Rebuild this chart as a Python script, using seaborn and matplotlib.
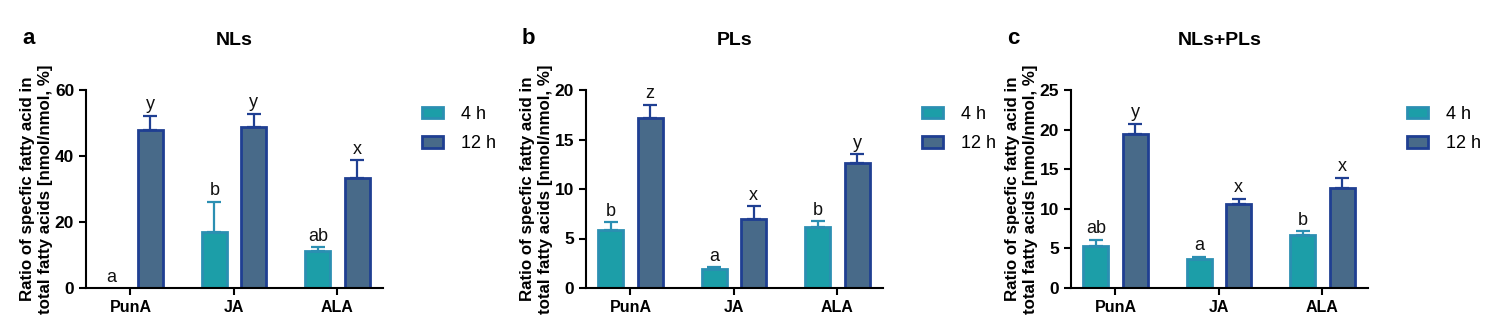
import matplotlib
matplotlib.use("Agg")
import matplotlib.pyplot as plt
import numpy as np
import pandas as pd
import seaborn as sns
from matplotlib.patches import Patch

sns.set_style("ticks", {"text.color": "black", "xtick.color": "black", "ytick.color": "black",
                        "axes.labelcolor": "black"})
plt.rcParams["font.family"] = ["Liberation Sans", "DejaVu Sans"]

acids = ["PunA", "JA", "ALA"]
times = ["4 h", "12 h"]

panels = ["a", "b", "c"]
titles = ["NLs", "PLs", "NLs+PLs"]
ymax = [60, 20, 25]
ysteps = [20, 5, 5]

# means per acid (PunA, JA, ALA)
nl_4h = [0.0, 16.9, 11.3]
nl_12h = [47.9, 48.8, 33.2]
pl_4h = [5.9, 1.95, 6.2]
pl_12h = [17.2, 6.95, 12.6]
all_4h = [5.3, 3.65, 6.7]
all_12h = [19.5, 10.6, 12.6]

# upper error (SD)
nl_4h_err = [0.0, 9.3, 1.1]
nl_12h_err = [4.3, 4.0, 5.5]
pl_4h_err = [0.75, 0.13, 0.58]
pl_12h_err = [1.3, 1.33, 0.9]
all_4h_err = [0.8, 0.3, 0.5]
all_12h_err = [1.27, 0.68, 1.35]

# significance letters
nl_4h_sig = ["a", "b", "ab"]
nl_12h_sig = ["y", "y", "x"]
pl_4h_sig = ["b", "a", "b"]
pl_12h_sig = ["z", "x", "y"]
all_4h_sig = ["ab", "a", "b"]
all_12h_sig = ["y", "x", "x"]

means = [(nl_4h, nl_12h), (pl_4h, pl_12h), (all_4h, all_12h)]
errors = [(nl_4h_err, nl_12h_err), (pl_4h_err, pl_12h_err), (all_4h_err, all_12h_err)]
letters = [(nl_4h_sig, nl_12h_sig), (pl_4h_sig, pl_12h_sig), (all_4h_sig, all_12h_sig)]

fill_colors = {"4 h": "#1c9ea8", "12 h": "#486a89"}
edge_colors = {"4 h": "#2b8fb2", "12 h": "#1f3f92"}

fig = plt.figure(figsize=(15, 3.33), dpi=100)
W, H = 1500, 333
lefts = [86, 586, 1071]
ax_w = 297
top_px, bot_px = 90, 288

for i in range(3):
    ax = fig.add_axes([lefts[i] / W, 1 - bot_px / H, ax_w / W, (bot_px - top_px) / H])
    rows = []
    for t, (vals, errs) in zip(times, zip(means[i], errors[i])):
        for a, v, e in zip(acids, vals, errs):
            rows.append({"acid": a, "time": t, "value": v, "err": e})
    df = pd.DataFrame(rows)

    sns.barplot(data=df, x="acid", y="value", hue="time", order=acids, hue_order=times,
                palette=fill_colors, saturation=1, width=0.76, gap=0.37, errorbar=None,
                linewidth=2, ax=ax, legend=False)

    for j, t in enumerate(times):
        cont = ax.containers[j]
        sub = df[df["time"] == t].set_index("acid").loc[acids]
        for k, bar in enumerate(cont):
            bar.set_edgecolor(edge_colors[t])
            xc = bar.get_x() + bar.get_width() / 2
            v = sub["value"].iloc[k]
            e = sub["err"].iloc[k]
            if v > 0:
                ax.errorbar(xc, v, yerr=[[0], [e]], color=edge_colors[t], capsize=5,
                            elinewidth=1.6, capthick=1.6, fmt="none", zorder=1)
            ax.text(xc, v + e + ymax[i] * 0.012, letters[i][j][k], ha="center", va="bottom",
                    fontsize=13, color="#111111")

    ax.set_xlim(-0.43, 2.44)
    ax.set_ylim(0, ymax[i])
    ax.set_yticks(np.arange(0, ymax[i] + 0.1, ysteps[i]))
    ax.set_xlabel("")
    ax.set_ylabel("Ratio of specfic fatty acid in\ntotal fatty acids [nmol/nmol, %]",
                  fontsize=12.2, fontweight="bold", labelpad=1, linespacing=1.25)
    sns.despine(ax=ax)
    for s in ["left", "bottom"]:
        ax.spines[s].set_linewidth(1.5)
        ax.spines[s].set_color("black")
    ax.tick_params(axis="both", width=1.5, length=5, color="black")
    ax.tick_params(axis="y", labelsize=12.5)
    ax.tick_params(axis="x", labelsize=11.5)
    for lab in ax.get_xticklabels() + ax.get_yticklabels():
        lab.set_fontweight("bold")
    ax.text(0.5, 1.25, titles[i], transform=ax.transAxes, ha="center", va="center",
            fontsize=14, fontweight="bold")
    fig.text((lefts[i] - 64) / W, 1 - 38 / H, panels[i], ha="left", va="center",
             fontsize=16, fontweight="bold")

    handles = [Patch(facecolor=fill_colors[t], edgecolor=edge_colors[t], linewidth=2, label=t)
               for t in times]
    ax.legend(handles=handles, loc="upper left", bbox_to_anchor=(1.13, 0.92), frameon=False,
              fontsize=13, handlelength=1.2, handleheight=0.6, handletextpad=1.0,
              labelspacing=0.7, borderaxespad=0, borderpad=0)

fig.savefig("out.png", dpi=100)
